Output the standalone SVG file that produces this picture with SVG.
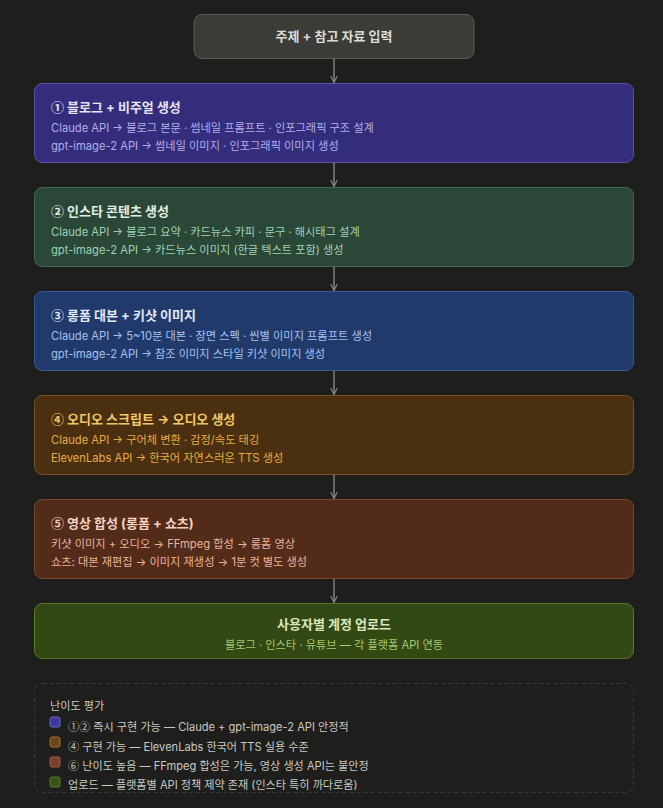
<svg xmlns="http://www.w3.org/2000/svg" width="663" height="808" viewBox="0 0 663 808">
<defs>
<marker id="ah" viewBox="0 0 10 10" refX="9" refY="5" markerWidth="8" markerHeight="8" orient="auto" markerUnits="userSpaceOnUse">
<path d="M1,1 L9,5 L1,9" fill="none" stroke="#8c8c87" stroke-width="1.4"/>
</marker>
<style>
text{font-family:Inter,"Noto Sans CJK KR","Noto Sans",sans-serif;}
.n{font-family:"Noto Sans CJK KR",sans-serif;}
.t{font-size:13px;font-weight:700;}
.b{font-size:11.2px;}
.l{font-size:11.1px;fill:#c9c9c2;}
.con{stroke:#8c8c87;stroke-width:1.3;fill:none;}
</style>
</defs>
<rect width="663" height="808" fill="#1e1e1c"/>

<g id="connectors">
<line class="con" x1="334" y1="58" x2="334" y2="82.5" marker-end="url(#ah)"/>
<line class="con" x1="334" y1="163" x2="334" y2="186.5" marker-end="url(#ah)"/>
<line class="con" x1="334" y1="267" x2="334" y2="290.5" marker-end="url(#ah)"/>
<line class="con" x1="334" y1="371" x2="334" y2="394.5" marker-end="url(#ah)"/>
<line class="con" x1="334" y1="475" x2="334" y2="498.5" marker-end="url(#ah)"/>
<line class="con" x1="334" y1="579" x2="334" y2="602.5" marker-end="url(#ah)"/>
</g>

<g id="input">
<rect x="194" y="14.5" width="280" height="44" rx="8" fill="#3b3b37" stroke="#5c5c57" stroke-width="1"/>
<text class="t" x="334" y="41" text-anchor="middle" fill="#dcdcd4">주제 + 참고 자료 입력</text>
</g>

<g id="step1">
<rect x="34.5" y="83.5" width="599" height="79" rx="8" fill="#332d7b" stroke="#5b53ad" stroke-width="1"/>
<text class="t" x="51" y="112" fill="#e6e4f6"><tspan class="n">①</tspan> 블로그 + 비주얼 생성</text>
<text class="b" x="51" y="132" fill="#b3aeea">Claude API → 블로그 본문 · 썸네일 프롬프트 · 인포그래픽 구조 설계</text>
<text class="b" x="51" y="150" fill="#b3aeea">gpt-image-2 API → 썸네일 이미지 · 인포그래픽 이미지 생성</text>
</g>

<g id="step2">
<rect x="34.5" y="187.5" width="599" height="79" rx="8" fill="#2a4738" stroke="#3f6b54" stroke-width="1"/>
<text class="t" x="51" y="216" fill="#e2efe7"><tspan class="n">②</tspan> 인스타 콘텐츠 생성</text>
<text class="b" x="51" y="236" fill="#9fd2b5">Claude API → 블로그 요약 · 카드뉴스 카피 · 문구 · 해시태그 설계</text>
<text class="b" x="51" y="254" fill="#9fd2b5">gpt-image-2 API → 카드뉴스 이미지 (한글 텍스트 포함) 생성</text>
</g>

<g id="step3">
<rect x="34.5" y="291.5" width="599" height="79" rx="8" fill="#203a6c" stroke="#3a5b9a" stroke-width="1"/>
<text class="t" x="51" y="320" fill="#e2e9f7"><tspan class="n">③</tspan> 롱폼 대본 + 키샷 이미지</text>
<text class="b" x="51" y="340" fill="#a7c1ee">Claude API → 5~10분 대본 · 장면 스펙 · 씬별 이미지 프롬프트 생성</text>
<text class="b" x="51" y="358" fill="#a7c1ee">gpt-image-2 API → 참조 이미지 스타일 키샷 이미지 생성</text>
</g>

<g id="step4">
<rect x="34.5" y="395.5" width="599" height="79" rx="8" fill="#4a3010" stroke="#7a5420" stroke-width="1"/>
<text class="t" x="51" y="424" fill="#f3c766"><tspan class="n">④</tspan> 오디오 스크립트 → 오디오 생성</text>
<text class="b" x="51" y="444" fill="#e8ac3e">Claude API → 구어체 변환 · 감정/속도 태깅</text>
<text class="b" x="51" y="462" fill="#e8ac3e">ElevenLabs API → 한국어 자연스러운 TTS 생성</text>
</g>

<g id="step5">
<rect x="34.5" y="499.5" width="599" height="79" rx="8" fill="#532b19" stroke="#7c4630" stroke-width="1"/>
<text class="t" x="51" y="528" fill="#f3d3c4"><tspan class="n">⑤</tspan> 영상 합성 (롱폼 + 쇼츠)</text>
<text class="b" x="51" y="548" fill="#eab39b">키샷 이미지 + 오디오 → FFmpeg 합성 → 롱폼 영상</text>
<text class="b" x="51" y="566" fill="#eab39b">쇼츠: 대본 재편집 → 이미지 재생성 → 1분 컷 별도 생성</text>
</g>

<g id="upload">
<rect x="34.5" y="603.5" width="599" height="55" rx="8" fill="#334913" stroke="#587a28" stroke-width="1"/>
<text class="t" x="334" y="629" text-anchor="middle" fill="#d9e8bd">사용자별 계정 업로드</text>
<text class="b" x="334" y="649" text-anchor="middle" fill="#a9c872">블로그 · 인스타 · 유튜브 — 각 플랫폼 API 연동</text>
</g>

<g id="legend">
<rect x="34.5" y="683.5" width="599" height="109" rx="8" fill="none" stroke="#3a3a38" stroke-width="1" stroke-dasharray="4 3"/>
<text class="l" x="50" y="710" fill="#c2c2ba">난이도 평가</text>
<rect x="50" y="717" width="10" height="10" rx="2" fill="#3e3a9c" stroke="#6b66c9" stroke-width="1"/>
<text class="l" x="68" y="731"><tspan class="n">①②</tspan> 즉시 구현 가능 — Claude + gpt-image-2 API 안정적</text>
<rect x="50" y="737" width="10" height="10" rx="2" fill="#6a4a18" stroke="#a07030" stroke-width="1"/>
<text class="l" x="68" y="751"><tspan class="n">④</tspan> 구현 가능 — ElevenLabs 한국어 TTS 실용 수준</text>
<rect x="50" y="757" width="10" height="10" rx="2" fill="#7a4030" stroke="#a35c46" stroke-width="1"/>
<text class="l" x="68" y="770"><tspan class="n">⑥</tspan> 난이도 높음 — FFmpeg 합성은 가능, 영상 생성 API는 불안정</text>
<rect x="50" y="777" width="10" height="10" rx="2" fill="#3a5218" stroke="#5c7c2a" stroke-width="1"/>
<text class="l" x="68" y="789">업로드 — 플랫폼별 API 정책 제약 존재 (인스타 특히 까다로움)</text>
</g>
</svg>
